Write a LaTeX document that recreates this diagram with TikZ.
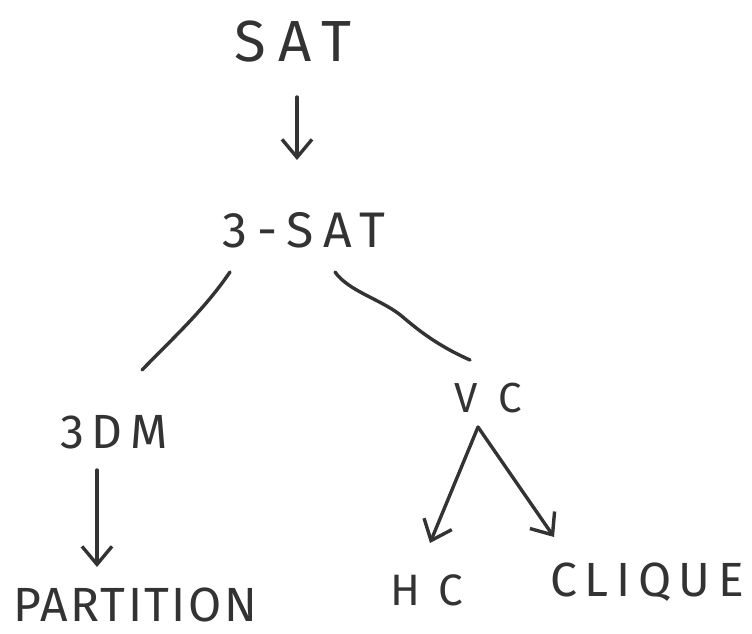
\documentclass[tikz,border=0pt]{standalone}
\usepackage{fontspec}
\setmainfont{Fira Sans}
\usetikzlibrary{arrows.meta,calc}
\begin{document}
\begin{tikzpicture}[x=1pt,y=-1pt,
  ink/.style={draw=black!80,line width=3.4pt,line cap=round,line join=round},
  barb/.style={-{Straight Barb[length=18pt,width=30pt,line width=3.4pt]}},
  lab/.style={inner sep=0pt,text=black!80}]
\useasboundingbox (0,0) rectangle (752,633);
\node[lab,font=\fontsize{58}{58}\addfontfeature{LetterSpace=22}\selectfont] (sat) at (293,42) {SAT};
\node[lab,font=\fontsize{50}{50}\addfontfeature{LetterSpace=20}\selectfont] (tsat) at (304,230) {3-SAT};
\node[lab,font=\fontsize{48}{48}\addfontfeature{LetterSpace=16}\selectfont] (tdm) at (114,432) {3DM};
\node[lab,font=\fontsize{42}{42}\addfontfeature{LetterSpace=50}\selectfont] (vc) at (488,398) {VC};
\node[lab,font=\fontsize{48}{48}\addfontfeature{LetterSpace=5}\selectfont] (part) at (135,605) {PARTITION};
\node[lab,font=\fontsize{44}{44}\addfontfeature{LetterSpace=40}\selectfont] (hc) at (427,590) {HC};
\node[lab,font=\fontsize{48}{48}\addfontfeature{LetterSpace=16}\selectfont] (clq) at (647,582) {CLIQUE};
% arrows and lines
\draw[ink,barb] ($(sat.center)+(4,55)$) -- ($(tsat.center)+(-7,-70)$);
\draw[ink] ($(tsat.center)+(-74,42)$) .. controls ($(tsat.center)+(-100,80)$) and ($(tdm.center)+(60,-95)$) .. ($(tdm.center)+(28,-62)$);
\draw[ink] ($(tsat.center)+(31,42)$) .. controls ($(tsat.center)+(45,62)$) and ($(tsat.center)+(80,70)$) .. ($(tsat.center)+(100,88)$)
  .. controls ($(tsat.center)+(120,105)$) and ($(vc.center)+(-45,-50)$) .. ($(vc.center)+(-18,-38)$);
\draw[ink,barb] ($(tdm.center)+(-17,38)$) -- ($(part.center)+(-38,-38)$);
\draw[ink,barb] ($(vc.center)+(-10,29)$) -- ($(hc.center)+(3,-47)$);
\draw[ink,barb] ($(vc.center)+(-10,29)$) -- ($(clq.center)+(-93,-45)$);
\end{tikzpicture}
\end{document}
